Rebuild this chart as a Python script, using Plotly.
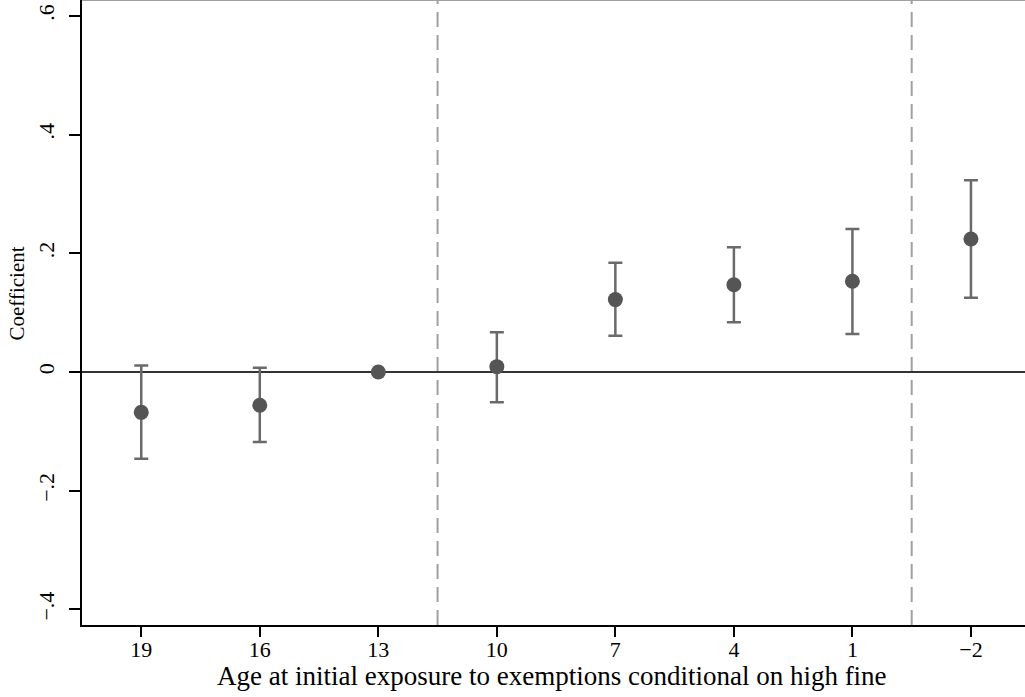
import plotly.graph_objects as go

categories = ["19", "16", "13", "10", "7", "4", "1", "\u22122"]
coef = [-0.068, -0.056, 0.0, 0.009, 0.122, 0.147, 0.153, 0.224]
ci_upper = [0.011, 0.007, None, 0.067, 0.184, 0.210, 0.241, 0.323]
ci_lower = [-0.146, -0.118, None, -0.051, 0.061, 0.084, 0.064, 0.125]
y_ticks = [-0.4, -0.2, 0, 0.2, 0.4, 0.6]
y_tick_labels = ["\u2212.4", "\u2212.2", "0", ".2", ".4", ".6"]
vlines_at = [2.5, 6.5]
x_title = "Age at initial exposure to exemptions conditional on high fine"
y_title = "Coefficient"

xpos = list(range(len(categories)))
err_plus = [(u - c) if u is not None else 0 for u, c in zip(ci_upper, coef)]
err_minus = [(c - l) if l is not None else 0 for l, c in zip(ci_lower, coef)]

font_family = "Liberation Serif, Times New Roman, serif"

fig = go.Figure()
fig.add_trace(go.Scatter(
    x=xpos, y=coef, mode="markers",
    marker=dict(size=15, color="#555555"),
    error_y=dict(type="data", symmetric=False, array=err_plus, arrayminus=err_minus,
                 color="#6a6a6a", thickness=2.5, width=7, visible=True),
    showlegend=False,
))

shapes = []
for v in vlines_at:
    shapes.append(dict(type="line", xref="x", yref="paper", x0=v, x1=v, y0=0, y1=1,
                       line=dict(color="#a0a0a0", width=2, dash="15px,8px"), layer="below"))
shapes.append(dict(type="line", xref="paper", yref="y", x0=0, x1=1, y0=0, y1=0,
                   line=dict(color="#333333", width=2), layer="below"))
shapes.append(dict(type="line", xref="paper", yref="paper", x0=0, x1=1, y0=1, y1=1,
                   line=dict(color="#a0a0a0", width=2)))

annotations = [
    dict(text=x_title, xref="paper", yref="paper", x=0.498, y=0, xanchor="center",
         yanchor="middle", yshift=-51, showarrow=False, font=dict(size=27)),
    dict(text=y_title, xref="paper", yref="paper", x=0, y=0.5304, xanchor="center",
         yanchor="middle", xshift=-66, textangle=-90, showarrow=False, font=dict(size=21)),
]

fig.update_layout(
    width=1025, height=697,
    margin=dict(l=82, r=0, t=0, b=72),
    paper_bgcolor="white", plot_bgcolor="white",
    font=dict(family=font_family, size=21, color="black"),
    shapes=shapes,
    annotations=annotations,
    xaxis=dict(
        range=[-0.5, 7.456], tickmode="array", tickvals=xpos, ticktext=categories,
        showgrid=False, zeroline=False, showline=True, linecolor="black", linewidth=2,
        ticks="outside", ticklen=10, tickwidth=2, tickcolor="black",
        tickfont=dict(size=22), ticklabelstandoff=-6,
    ),
    yaxis=dict(
        range=[-0.4263, 0.6268], tickmode="array", tickvals=y_ticks, ticktext=y_tick_labels,
        tickangle=-90,
        showgrid=False, zeroline=False, showline=True, linecolor="black", linewidth=2,
        ticks="outside", ticklen=11, tickwidth=2, tickcolor="black",
        tickfont=dict(size=22), ticklabelstandoff=6,
    ),
)

fig.write_html("out.html", config={"displayModeBar": False},
               post_script="document.body.style.margin='0';document.body.style.padding='0';"
                           "window.dispatchEvent(new Event('resize'));")
